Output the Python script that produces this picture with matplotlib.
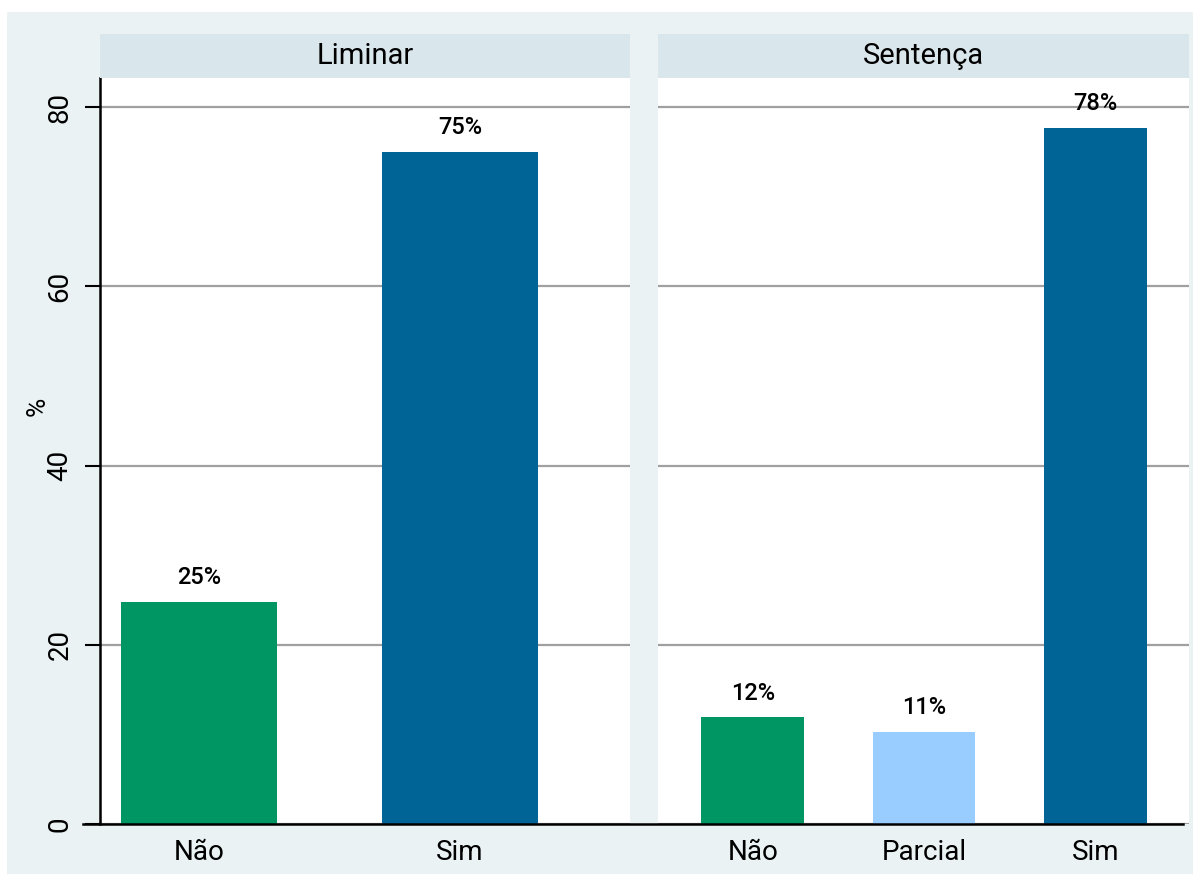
import matplotlib
matplotlib.use("Agg")
import matplotlib.pyplot as plt
from matplotlib.patches import Rectangle
from matplotlib.lines import Line2D

plt.rcParams['font.family'] = ['Roboto', 'DejaVu Sans']

# data
panels = ["Liminar", "Sentença"]
categories = [["Não", "Sim"], ["Não", "Parcial", "Sim"]]
values = [[24.8, 75.0], [11.9, 10.3, 77.7]]
labels = [["25%", "75%"], ["12%", "11%", "78%"]]
bar_colors = [["#009664", "#006496"], ["#009664", "#99ccff", "#006496"]]

W, H = 1193, 874
BG = "#eaf2f3"
STRIP = "#d9e6eb"

fig = plt.figure(figsize=(W / 100, H / 100), dpi=100)
fig.patch.set_facecolor("white")
fig.patches.append(Rectangle((7 / W, 0), 1 - 7 / W, 1 - 12 / H, transform=fig.transFigure,
                             facecolor=BG, edgecolor="none", zorder=-10))


def px_box(x0, x1, ytop, ybot):
    return [x0 / W, 1 - ybot / H, (x1 - x0) / W, (ybot - ytop) / H]


boxes = [(100, 630), (658, 1189)]
xlims = [(-0.379, 1.651), (-0.553, 2.547)]
ytop, ybot = 78, 824
ymax = (ybot - ytop) / ((ybot - 107) / 80)

for i, name in enumerate(panels):
    x0, x1 = boxes[i]
    ax = fig.add_axes(px_box(x0, x1, ytop, ybot))
    ax.set_facecolor("white")
    pos = list(range(len(categories[i])))
    ax.bar(pos, values[i], width=0.6, color=bar_colors[i], zorder=3)
    for p, v, lab in zip(pos, values[i], labels[i]):
        ax.annotate(lab, (p, v), xytext=(0, 9), textcoords="offset points",
                    ha="center", va="bottom", fontsize=17, fontweight="medium", zorder=4)
    ax.set_xlim(*xlims[i])
    ax.set_ylim(0, ymax)
    ax.set_yticks([0, 20, 40, 60, 80])
    ax.yaxis.grid(True, color="#a0a0a0", linewidth=1.6, zorder=0)
    ax.set_axisbelow(True)
    ax.set_xticks(pos)
    ax.set_xticklabels(categories[i], fontsize=20)
    ax.tick_params(axis="x", length=0, pad=11)
    for s in ["top", "right", "bottom"]:
        ax.spines[s].set_visible(False)
    if i == 0:
        ax.spines["left"].set_linewidth(1.8)
        ax.tick_params(axis="y", length=11, width=1.5, pad=8, labelsize=20)
        for t in ax.get_yticklabels():
            t.set_rotation(90)
            t.set_va("center")
        ax.set_ylabel("%", fontsize=19)
        ax.yaxis.set_label_coords(-0.095, 0.56)
    else:
        ax.spines["left"].set_visible(False)
        ax.tick_params(axis="y", length=0, labelleft=False)

    # strip with panel title
    sax = fig.add_axes(px_box(x0, x1, 34, ytop))
    sax.set_facecolor(STRIP)
    sax.set_xticks([])
    sax.set_yticks([])
    for s in sax.spines.values():
        s.set_visible(False)
    sax.text(0.5, 0.5, name, ha="center", va="center", fontsize=21, transform=sax.transAxes)

# x axis line running under both panels
fig.lines.append(Line2D([83 / W, 1183 / W], [1 - 824 / H, 1 - 824 / H], transform=fig.transFigure,
                        color="black", linewidth=1.8, zorder=10))

fig.savefig("out.png", dpi=100, facecolor=fig.get_facecolor())
